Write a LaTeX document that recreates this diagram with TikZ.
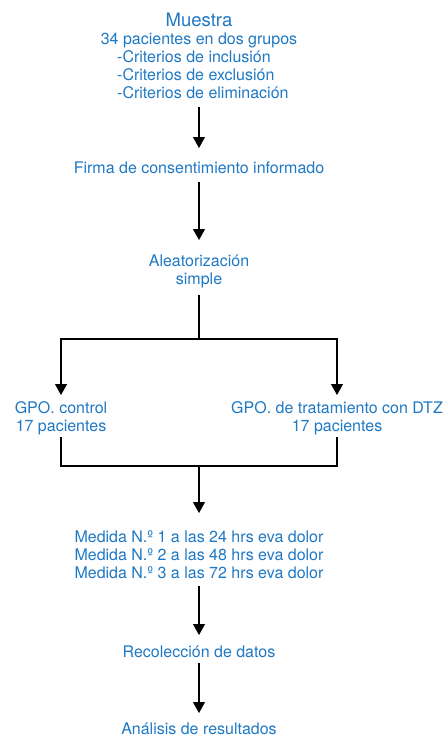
\documentclass[tikz,border=0pt]{standalone}
\usepackage{fontspec}
\setmainfont{TeX Gyre Heros}
\usetikzlibrary{arrows.meta}
\definecolor{txtblue}{RGB}{30,120,196}
\begin{document}
\begin{tikzpicture}[x=1pt,y=-1pt,
  lbl/.style={text=txtblue, font=\fontsize{16}{18}\selectfont, inner sep=0pt, anchor=base},
  lblw/.style={lbl, anchor=base west},
  arr/.style={line width=1.2pt, -{Triangle[width=12pt,length=11pt]}},
  ln/.style={line width=1.2pt}]
\useasboundingbox (0,0) rectangle (444,737);
% top block
\node[lbl, font=\fontsize{18.5}{20}\selectfont] (muestra) at (199,26) {Muestra};
\node[lbl] (pac) at (199,44) {34 pacientes en dos grupos};
\node[lblw] (c1) at (117,62) {-Criterios de inclusión};
\node[lblw] (c2) at (117,80) {-Criterios de exclusión};
\node[lblw] (c3) at (117,98) {-Criterios de eliminación};
\node[lbl] (firma) at (199,173) {Firma de consentimiento informado};
\node[lbl] (alea1) at (199,266) {Aleatorización};
\node[lbl] (alea2) at (199,284) {simple};
\node[lbl] (ctl1) at (61,413) {GPO. control};
\node[lbl] (ctl2) at (61,431) {17 pacientes};
\node[lbl] (trt1) at (337,413) {GPO. de tratamiento con DTZ};
\node[lbl] (trt2) at (337,431) {17 pacientes};
\node[lbl] (m1) at (199,542) {Medida N.º 1 a las 24 hrs eva dolor};
\node[lbl] (m2) at (199,560) {Medida N.º 2 a las 48 hrs eva dolor};
\node[lbl] (m3) at (199,578) {Medida N.º 3 a las 72 hrs eva dolor};
\node[lbl] (rec) at (199,657) {Recolección de datos};
\node[lbl] (ana) at (199,734) {Análisis de resultados};
\coordinate (split) at (199,339);
\coordinate (join) at (199,466);
% connectors
\draw[arr] ([yshift=-9pt]c3.base -| firma) -- ([yshift=25pt]firma.base);
\draw[arr] ([yshift=-9pt]firma.base) -- ([yshift=26pt]alea1.base);
\draw[ln] ([yshift=-11pt]alea2.base) -- (split);
\draw[arr] (split) -| ([yshift=18pt]ctl1.base);
\draw[arr] (split) -| ([yshift=18pt]trt1.base);
\draw[ln] ([yshift=-6pt]ctl2.base) |- (trt2.base |- join) -- ([yshift=-6pt]trt2.base);
\draw[arr] (join) -- ([yshift=29pt]m1.base);
\draw[arr] ([yshift=-8pt]m3.base) -- ([yshift=22pt]rec.base);
\draw[arr] ([yshift=-6pt]rec.base) -- ([yshift=21pt]ana.base);
\end{tikzpicture}
\end{document}
